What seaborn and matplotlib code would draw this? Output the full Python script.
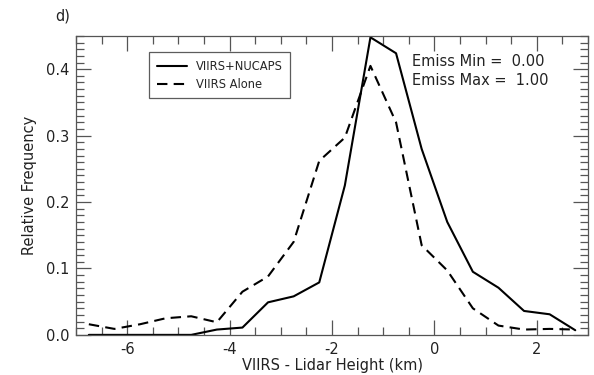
import numpy as np
import pandas as pd
import seaborn as sns
import matplotlib.pyplot as plt
from matplotlib.ticker import MultipleLocator

# bin centres (km) and relative frequencies
height = [-6.75, -6.25, -5.75, -5.25, -4.75, -4.25, -3.75, -3.25, -2.75, -2.25,
          -1.75, -1.25, -0.75, -0.25, 0.25, 0.75, 1.25, 1.75, 2.25, 2.75]
viirs_nucaps = [0.0, 0.0, 0.0, 0.0, 0.0, 0.008, 0.011, 0.049, 0.058, 0.079,
                0.225, 0.448, 0.424, 0.280, 0.170, 0.095, 0.071, 0.036, 0.031, 0.007]
viirs_alone = [0.016, 0.009, 0.016, 0.025, 0.028, 0.019, 0.065, 0.088, 0.140, 0.262,
               0.297, 0.405, 0.320, 0.135, 0.097, 0.040, 0.014, 0.008, 0.009, 0.008]
series_names = ["VIIRS+NUCAPS", "VIIRS Alone"]

df = pd.concat([
    pd.DataFrame({"height": height, "freq": viirs_nucaps, "series": series_names[0]}),
    pd.DataFrame({"height": height, "freq": viirs_alone, "series": series_names[1]}),
])

sns.set_style("ticks")
plt.rcParams["font.family"] = ["DejaVu Sans"]
plt.rcParams["axes.unicode_minus"] = False

fig = plt.figure(figsize=(5.94, 3.75), dpi=100)
ax = fig.add_axes([0.128, 0.107, 0.862, 0.797])

sns.lineplot(data=df, x="height", y="freq", style="series", color="black",
             dashes={series_names[0]: "", series_names[1]: (5, 3)},
             linewidth=1.5, ax=ax)

ax.set_xlim(-7, 3)
ax.set_ylim(0, 0.45)
ax.xaxis.set_major_locator(MultipleLocator(2))
ax.xaxis.set_minor_locator(MultipleLocator(0.5))
ax.yaxis.set_major_locator(MultipleLocator(0.1))
ax.yaxis.set_minor_locator(MultipleLocator(0.01))
ax.tick_params(which="both", direction="in", top=True, right=True,
               color="#555555", labelsize=10.5, labelcolor="#222222", pad=5)
ax.tick_params(which="major", length=11, width=0.9)
ax.tick_params(which="minor", length=5.5, width=0.9)
for s in ax.spines.values():
    s.set_color("#555555")
    s.set_linewidth(0.9)

ax.set_xlabel("VIIRS - Lidar Height (km)", fontsize=10.5, labelpad=1, color="#222222")
ax.set_ylabel("Relative Frequency", fontsize=10.5, labelpad=6, color="#222222")

leg = ax.legend(loc="upper left", bbox_to_anchor=(0.143, 0.946), borderaxespad=0,
                fontsize=8.3, handlelength=2.6, frameon=True, fancybox=False,
                title=None, borderpad=0.65, labelspacing=0.45)
leg.get_frame().set_edgecolor("#333333")
leg.get_frame().set_linewidth(0.9)

ax.text(0.656, 0.94, "Emiss Min =  0.00\nEmiss Max =  1.00", transform=ax.transAxes,
        ha="left", va="top", fontsize=10.5, linespacing=1.3, color="#222222")

fig.text(0.093, 0.957, "d)", fontsize=10.5, ha="left", va="center", color="#222222")

fig.savefig("out.png", dpi=100)
